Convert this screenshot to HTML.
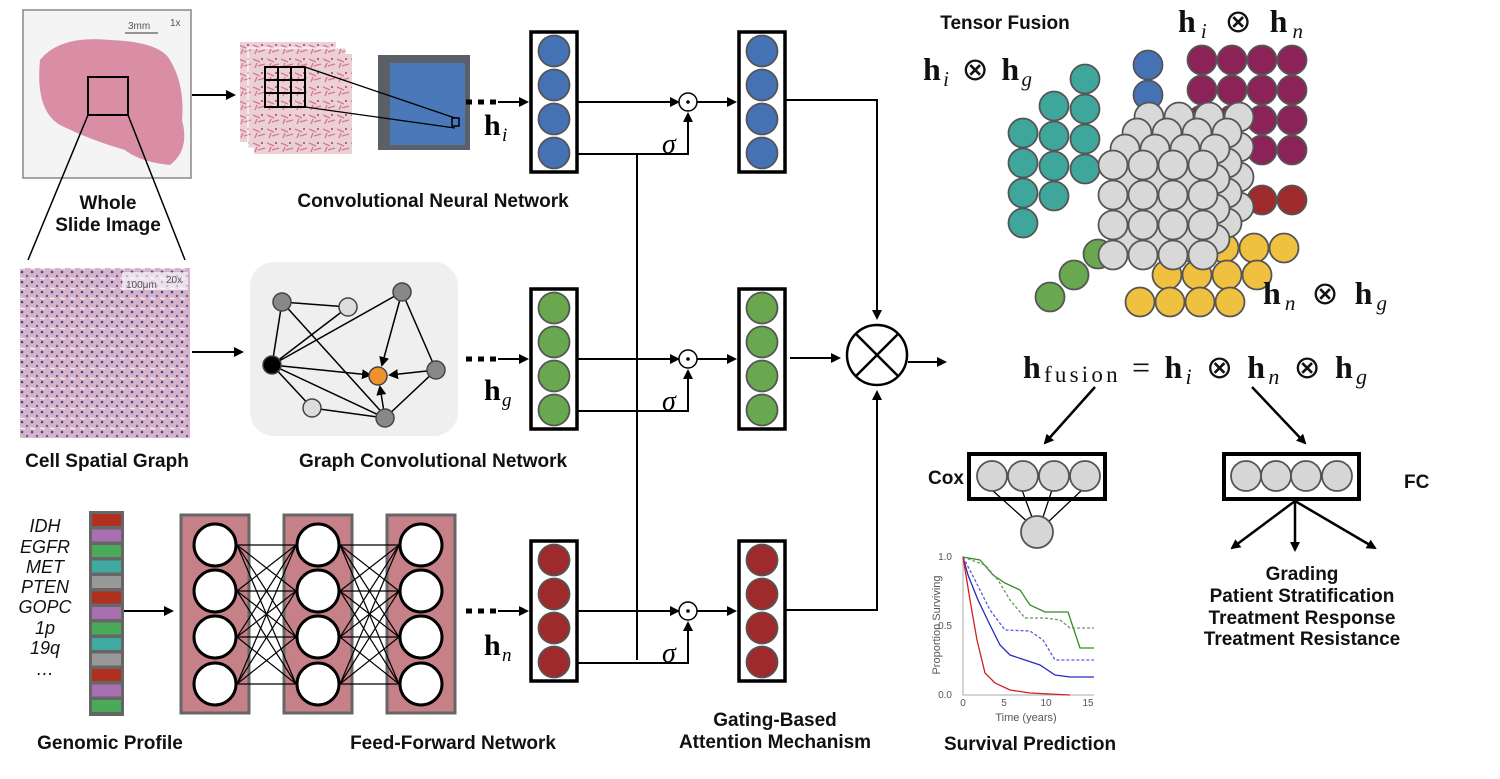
<!DOCTYPE html>
<html><head><meta charset="utf-8"><style>
html,body{margin:0;padding:0;background:#fff}
svg{display:block}
.t{font-family:"Liberation Sans",Arial,sans-serif;font-weight:bold;font-size:19px;fill:#111}
.m{font-family:"Liberation Serif",serif;font-size:32px;fill:#111}
.g{font-family:"Liberation Sans",sans-serif;font-style:italic;font-size:18px;fill:#111}
.s{font-family:"Liberation Sans",sans-serif;font-size:10px;fill:#555}
</style></head><body>
<svg id="sv" width="1500" height="779" viewBox="0 0 1500 779" xmlns="http://www.w3.org/2000/svg">
<defs>
<marker id="ar" markerWidth="10" markerHeight="10" refX="8" refY="5" orient="auto" markerUnits="userSpaceOnUse"><path d="M0,0 L10,5 L0,10 z" fill="#000"/></marker>
<pattern id="tis" width="14" height="14" patternUnits="userSpaceOnUse"><rect width="14" height="14" fill="#ecd0d8"/><path d="M1 3 L8 6 M6 10 L13 8 M3 12 L5 7" stroke="#d57a90" stroke-width="1.4"/><circle cx="10" cy="3" r="1" fill="#a04060"/></pattern>
<pattern id="cell" width="10" height="10" patternUnits="userSpaceOnUse"><rect width="10" height="10" fill="#d8b3c7"/><circle cx="2" cy="2" r="1.3" fill="#3a4a9a"/><circle cx="7" cy="6" r="1.2" fill="#5560b0"/><path d="M0 8 L5 9" stroke="#fff" stroke-width="1"/></pattern>
</defs>

<!-- WSI -->
<rect x="23" y="10" width="168" height="168" fill="#f4f4f4" stroke="#888" stroke-width="1.5"/>
<path d="M40 60 Q60 35 110 40 Q160 42 170 60 Q185 85 182 120 Q190 150 170 165 Q140 162 125 150 Q90 140 60 125 Q35 110 40 60 z" fill="#d98ea5"/>
<line x1="125" y1="33" x2="158" y2="33" stroke="#333"/><text x="128" y="29" class="s" fill="#222">3mm</text><text x="170" y="26" class="s">1x</text>
<rect x="88" y="77" width="40" height="38" fill="none" stroke="#000" stroke-width="2"/>
<line x1="88" y1="115" x2="28" y2="260" stroke="#000" stroke-width="1.5"/>
<line x1="128" y1="115" x2="185" y2="260" stroke="#000" stroke-width="1.5"/>
<text x="108" y="209" text-anchor="middle" class="t">Whole</text>
<text x="108" y="231" text-anchor="middle" class="t">Slide Image</text>
<line x1="192" y1="95" x2="234" y2="95" stroke="#000" stroke-width="2" marker-end="url(#ar)"/>
<!-- patches -->
<rect x="240" y="42" width="96" height="100" fill="url(#tis)"/>
<rect x="248" y="48" width="98" height="100" fill="url(#tis)" stroke="#fff"/>
<rect x="254" y="54" width="98" height="100" fill="url(#tis)"/>
<g stroke="#000" stroke-width="2" fill="none"><rect x="265" y="67" width="40" height="40"/><path d="M278 67V107M291 67V107M265 80H305M265 93H305"/></g>
<rect x="378" y="55" width="92" height="95" fill="#5a5f68"/>
<rect x="390" y="63" width="75" height="82" fill="#4a78b8"/>
<line x1="305" y1="67" x2="455" y2="118" stroke="#000" stroke-width="1.3"/>
<line x1="305" y1="107" x2="455" y2="128" stroke="#000" stroke-width="1.3"/>
<rect x="452" y="118" width="7" height="8" fill="none" stroke="#000" stroke-width="1.5"/>
<text x="433" y="207" text-anchor="middle" class="t">Convolutional Neural Network</text>

<!-- Cell -->
<rect x="20" y="268" width="170" height="170" fill="url(#cell)"/>
<rect x="122" y="272" width="66" height="18" fill="#fff" opacity="0.6"/>
<text x="126" y="288" class="s" fill="#000">100μm</text><text x="166" y="283" class="s">20x</text>
<text x="107" y="467" text-anchor="middle" class="t">Cell Spatial Graph</text>
<line x1="192" y1="352" x2="242" y2="352" stroke="#000" stroke-width="2" marker-end="url(#ar)"/>
<!-- graph -->
<rect x="250" y="262" width="208" height="174" rx="24" fill="#efefef"/>
<g stroke="#000" stroke-width="1.5">
<line x1="272" y1="365" x2="282" y2="302"/><line x1="272" y1="365" x2="348" y2="307"/><line x1="272" y1="365" x2="402" y2="292"/><line x1="272" y1="365" x2="385" y2="418"/><line x1="272" y1="365" x2="312" y2="408"/><line x1="282" y1="302" x2="387" y2="418"/><line x1="282" y1="302" x2="348" y2="307"/><line x1="402" y1="292" x2="436" y2="370"/><line x1="436" y1="370" x2="385" y2="418"/><line x1="312" y1="408" x2="385" y2="418"/>
<line x1="272" y1="365" x2="370" y2="375" marker-end="url(#ar)"/><line x1="402" y1="292" x2="382" y2="365" marker-end="url(#ar)"/><line x1="436" y1="370" x2="390" y2="375" marker-end="url(#ar)"/><line x1="385" y1="418" x2="380" y2="387" marker-end="url(#ar)"/>
</g>
<g stroke="#444" stroke-width="1.5"><circle cx="282" cy="302" r="9" fill="#888"/><circle cx="348" cy="307" r="9" fill="#ddd"/><circle cx="402" cy="292" r="9" fill="#888"/><circle cx="436" cy="370" r="9" fill="#888"/><circle cx="385" cy="418" r="9" fill="#888"/><circle cx="312" cy="408" r="9" fill="#ddd"/><circle cx="272" cy="365" r="9" fill="#000"/><circle cx="378" cy="376" r="9" fill="#f0922b"/></g>
<text x="433" y="467" text-anchor="middle" class="t">Graph Convolutional Network</text>

<!-- genomic -->
<g class="g" text-anchor="middle"><text x="45" y="532">IDH</text><text x="45" y="553">EGFR</text><text x="45" y="573">MET</text><text x="45" y="593">PTEN</text><text x="45" y="613">GOPC</text><text x="45" y="634">1p</text><text x="45" y="654">19q</text><text x="45" y="675">…</text></g>
<rect x="89" y="511" width="35" height="205" fill="#666"/>
<g id="genes"></g>
<line x1="124" y1="611" x2="172" y2="611" stroke="#000" stroke-width="2" marker-end="url(#ar)"/>
<g id="ffn"></g>
<text x="110" y="749" text-anchor="middle" class="t">Genomic Profile</text>
<text x="453" y="749" text-anchor="middle" class="t">Feed-Forward Network</text>

<!-- gating -->
<g id="gate"></g>
<text x="775" y="726" text-anchor="middle" class="t">Gating-Based</text>
<text x="775" y="748" text-anchor="middle" class="t">Attention Mechanism</text>
<line x1="637" y1="155" x2="637" y2="660" stroke="#000" stroke-width="2"/>
<!-- fusion -->
<polyline points="786,100 877,100 877,318" fill="none" stroke="#000" stroke-width="2" marker-end="url(#ar)"/>
<line x1="790" y1="358" x2="839" y2="358" stroke="#000" stroke-width="2" marker-end="url(#ar)"/>
<polyline points="786,610 877,610 877,392" fill="none" stroke="#000" stroke-width="2" marker-end="url(#ar)"/>
<circle cx="877" cy="355" r="30" fill="#fff" stroke="#000" stroke-width="2.5"/>
<path d="M856 334L898 376M898 334L856 376" stroke="#000" stroke-width="2.5"/>
<line x1="908" y1="362" x2="945" y2="362" stroke="#000" stroke-width="2" marker-end="url(#ar)"/>

<text x="1005" y="29" text-anchor="middle" class="t">Tensor Fusion</text>
<g id="tf"></g>
<text x="1178" y="32" class="m" font-weight="bold" textLength="125" lengthAdjust="spacing">h<tspan font-size="21" font-style="italic" font-weight="normal" dy="6">i</tspan><tspan dy="-6" font-weight="normal"> ⊗ </tspan>h<tspan font-size="21" font-style="italic" font-weight="normal" dy="6">n</tspan></text>
<text x="923" y="80" class="m" font-weight="bold" textLength="109" lengthAdjust="spacing">h<tspan font-size="21" font-style="italic" font-weight="normal" dy="6">i</tspan><tspan dy="-6" font-weight="normal"> ⊗ </tspan>h<tspan font-size="21" font-style="italic" font-weight="normal" dy="6">g</tspan></text>
<text x="1263" y="304" class="m" font-weight="bold" textLength="124" lengthAdjust="spacing">h<tspan font-size="21" font-style="italic" font-weight="normal" dy="6">n</tspan><tspan dy="-6" font-weight="normal"> ⊗ </tspan>h<tspan font-size="21" font-style="italic" font-weight="normal" dy="6">g</tspan></text>
<text x="1023" y="378" class="m" font-weight="bold" font-size="34" textLength="344" lengthAdjust="spacing">h<tspan font-size="23" font-weight="normal" dy="4">fusion</tspan><tspan dy="-4" font-weight="normal"> = </tspan>h<tspan font-size="22" font-style="italic" font-weight="normal" dy="6">i</tspan><tspan dy="-6" font-weight="normal"> ⊗ </tspan>h<tspan font-size="22" font-style="italic" font-weight="normal" dy="6">n</tspan><tspan dy="-6" font-weight="normal"> ⊗ </tspan>h<tspan font-size="22" font-style="italic" font-weight="normal" dy="6">g</tspan></text>
<line x1="1095" y1="387" x2="1045" y2="443" stroke="#000" stroke-width="2.5" marker-end="url(#ar)"/>
<line x1="1252" y1="387" x2="1305" y2="443" stroke="#000" stroke-width="2.5" marker-end="url(#ar)"/>
<!-- Cox -->
<text x="928" y="484" class="t">Cox</text>
<rect x="969" y="454" width="136" height="45" fill="#fff" stroke="#000" stroke-width="4"/>
<g stroke="#000" stroke-width="1.3"><line x1="992" y1="490" x2="1030" y2="524"/><line x1="1022" y1="490" x2="1033" y2="520"/><line x1="1052" y1="490" x2="1042" y2="520"/><line x1="1082" y1="490" x2="1046" y2="524"/></g>
<g fill="#d6d6d6" stroke="#555" stroke-width="1.8"><circle cx="992" cy="476" r="15"/><circle cx="1023" cy="476" r="15"/><circle cx="1054" cy="476" r="15"/><circle cx="1085" cy="476" r="15"/><circle cx="1037" cy="532" r="16"/></g>
<!-- FC -->
<rect x="1224" y="454" width="135" height="45" fill="#fff" stroke="#000" stroke-width="4"/>
<g fill="#d6d6d6" stroke="#555" stroke-width="1.8"><circle cx="1246" cy="476" r="15"/><circle cx="1276" cy="476" r="15"/><circle cx="1306" cy="476" r="15"/><circle cx="1337" cy="476" r="15"/></g>
<text x="1404" y="488" class="t">FC</text>
<g stroke="#000" stroke-width="2.5"><line x1="1295" y1="501" x2="1232" y2="548" marker-end="url(#ar)"/><line x1="1295" y1="501" x2="1295" y2="550" marker-end="url(#ar)"/><line x1="1295" y1="501" x2="1375" y2="548" marker-end="url(#ar)"/></g>
<g class="t" text-anchor="middle"><text x="1302" y="580">Grading</text><text x="1302" y="602">Patient Stratification</text><text x="1302" y="624">Treatment Response</text><text x="1302" y="645">Treatment Resistance</text></g>
<!-- plot -->
<g font-family="Liberation Sans,sans-serif" font-size="10" fill="#555">
<text x="952" y="560" text-anchor="end">1.0</text><text x="952" y="629" text-anchor="end">0.5</text><text x="952" y="698" text-anchor="end">0.0</text>
<text x="963" y="706" text-anchor="middle">0</text><text x="1004" y="706" text-anchor="middle">5</text><text x="1046" y="706" text-anchor="middle">10</text><text x="1088" y="706" text-anchor="middle">15</text>
<text x="1026" y="721" text-anchor="middle" font-size="11">Time (years)</text>
<text transform="translate(940 625) rotate(-90)" text-anchor="middle" font-size="11">Proportion Surviving</text></g>
<path d="M963 556V695H1094" fill="none" stroke="#aaa"/>
<g fill="none" stroke-width="1.3">
<path d="M963 557 L980 560 L993 575 L1005 583 L1020 590 L1030 605 L1045 612 L1068 612 L1074 630 L1080 648 L1094 648" stroke="#3a8a2a"/>
<path d="M963 557 L985 565 L998 580 L1010 600 L1025 618 L1045 618 L1060 620 L1070 628 L1094 628" stroke="#6a9a5a" stroke-dasharray="3 2"/>
<path d="M963 557 L968 575 L978 600 L990 625 L1000 645 L1010 655 L1025 660 L1040 665 L1055 675 L1070 677 L1094 677" stroke="#2a2ac0"/>
<path d="M963 557 L975 580 L990 610 L1005 630 L1030 631 L1043 640 L1055 660 L1094 660" stroke="#5a5ae0" stroke-dasharray="3 2"/>
<path d="M963 557 L970 600 L977 640 L985 673 L995 683 L1010 690 L1030 693 L1070 695" stroke="#d02020"/>
</g>
<text x="1030" y="750" text-anchor="middle" class="t">Survival Prediction</text>
</svg>
<script>
var sv=document.getElementById('sv'),NS='http://www.w3.org/2000/svg';
function el(p,t,a){var e=document.createElementNS(NS,t);for(var k in a)e.setAttribute(k,a[k]);p.appendChild(e);return e;}
var gn=document.getElementById('genes');
var gc=['#b03020','#a870b0','#4aaa5a','#40aaa0','#999','#b03020','#a870b0','#4aaa5a','#40aaa0','#999','#b03020','#a870b0','#4aaa5a'];
for(var i=0;i<13;i++)el(gn,'rect',{x:92,y:514+i*15.5,width:29,height:12,fill:gc[i]});
var ff=document.getElementById('ffn');
var cx=[215,318,421],cy=[545,591,637,684];
for(var c=0;c<3;c++)el(ff,'rect',{x:cx[c]-34,y:515,width:68,height:198,fill:'#c58088',stroke:'#666','stroke-width':3});
for(var c=0;c<2;c++)for(var a=0;a<4;a++)for(var b=0;b<4;b++)el(ff,'line',{x1:cx[c]+22,y1:cy[a],x2:cx[c+1]-22,y2:cy[b],stroke:'#000','stroke-width':1.2});
for(var c=0;c<3;c++)for(var a=0;a<4;a++)el(ff,'circle',{cx:cx[c],cy:cy[a],r:21,fill:'#fff',stroke:'#000','stroke-width':3});
var gt=document.getElementById('gate');
function col(x,y,f){el(gt,'rect',{x:x,y:y,width:46,height:140,fill:'#fff',stroke:'#000','stroke-width':3.5});for(var i=0;i<4;i++)el(gt,'circle',{cx:x+23,cy:y+19+i*34,r:15.5,fill:f,stroke:'#555','stroke-width':1.8});}
var rows=[[32,'#4472b4',100,155,'i',135],[289,'#6aa84f',358,405,'g',400],[541,'#9e2a2b',610,660,'n',655]];
rows.forEach(function(r){var y=r[0];col(531,y,r[1]);col(739,y,r[1]);
var my=y+70;
el(gt,'path',{d:'M466 '+(my)+'h6m6 0h6m6 0h6',stroke:'#000','stroke-width':5});
el(gt,'line',{x1:498,y1:my,x2:527,y2:my,stroke:'#000','stroke-width':2,'marker-end':'url(#ar)'});
el(gt,'line',{x1:577,y1:my,x2:678,y2:my,stroke:'#000','stroke-width':2,'marker-end':'url(#ar)'});
el(gt,'polyline',{points:'577,'+(y+122)+' 688,'+(y+122)+' 688,'+(my+12),fill:'none',stroke:'#000','stroke-width':2,'marker-end':'url(#ar)'});
el(gt,'circle',{cx:688,cy:my,r:9,fill:'#fff',stroke:'#000','stroke-width':1.5});
el(gt,'circle',{cx:688,cy:my,r:1.8,fill:'#000'});
el(gt,'line',{x1:697,y1:my,x2:735,y2:my,stroke:'#000','stroke-width':2,'marker-end':'url(#ar)'});
var s=el(gt,'text',{x:662,y:y+121,'font-family':'Liberation Serif,serif','font-style':'italic','font-size':28});s.textContent='σ';
var h=el(gt,'text',{x:484,y:r[5],'font-family':'Liberation Serif,serif','font-weight':'bold','font-size':30});h.textContent='h';
var sb=el(gt,'text',{x:502,y:r[5]+6,'font-family':'Liberation Serif,serif','font-style':'italic','font-size':19});sb.textContent=r[4];
});
var tf=document.getElementById('tf');
function C(x,y,f){el(tf,'circle',{cx:x,cy:y,r:14.5,fill:f,stroke:'#555','stroke-width':1.8});}
for(var i=2;i>=0;i--)for(var j=0;j<4;j++)C(1023+i*31,133+j*30-i*27,'#3fa69c');
C(1050,297,'#6aa84f');C(1074,275,'#6aa84f');C(1098,254,'#6aa84f');
for(var i=2;i>=0;i--)for(var j=0;j<4;j++)C(1140+j*30+i*27,302-i*27,'#f0c040');
C(1148,65,'#4472b4');C(1148,95,'#4472b4');
for(var a=0;a<4;a++)for(var b=0;b<4;b++)C(1202+b*30,60+a*30,'#8b2258');
C(1262,200,'#9e2a2b');C(1292,200,'#9e2a2b');
for(var k=3;k>=0;k--)for(var a=0;a<4;a++)for(var b=0;b<4;b++)C(1113+b*30+k*12,165+a*30-k*16,'#d8d8d8');
</script>
</body></html>
